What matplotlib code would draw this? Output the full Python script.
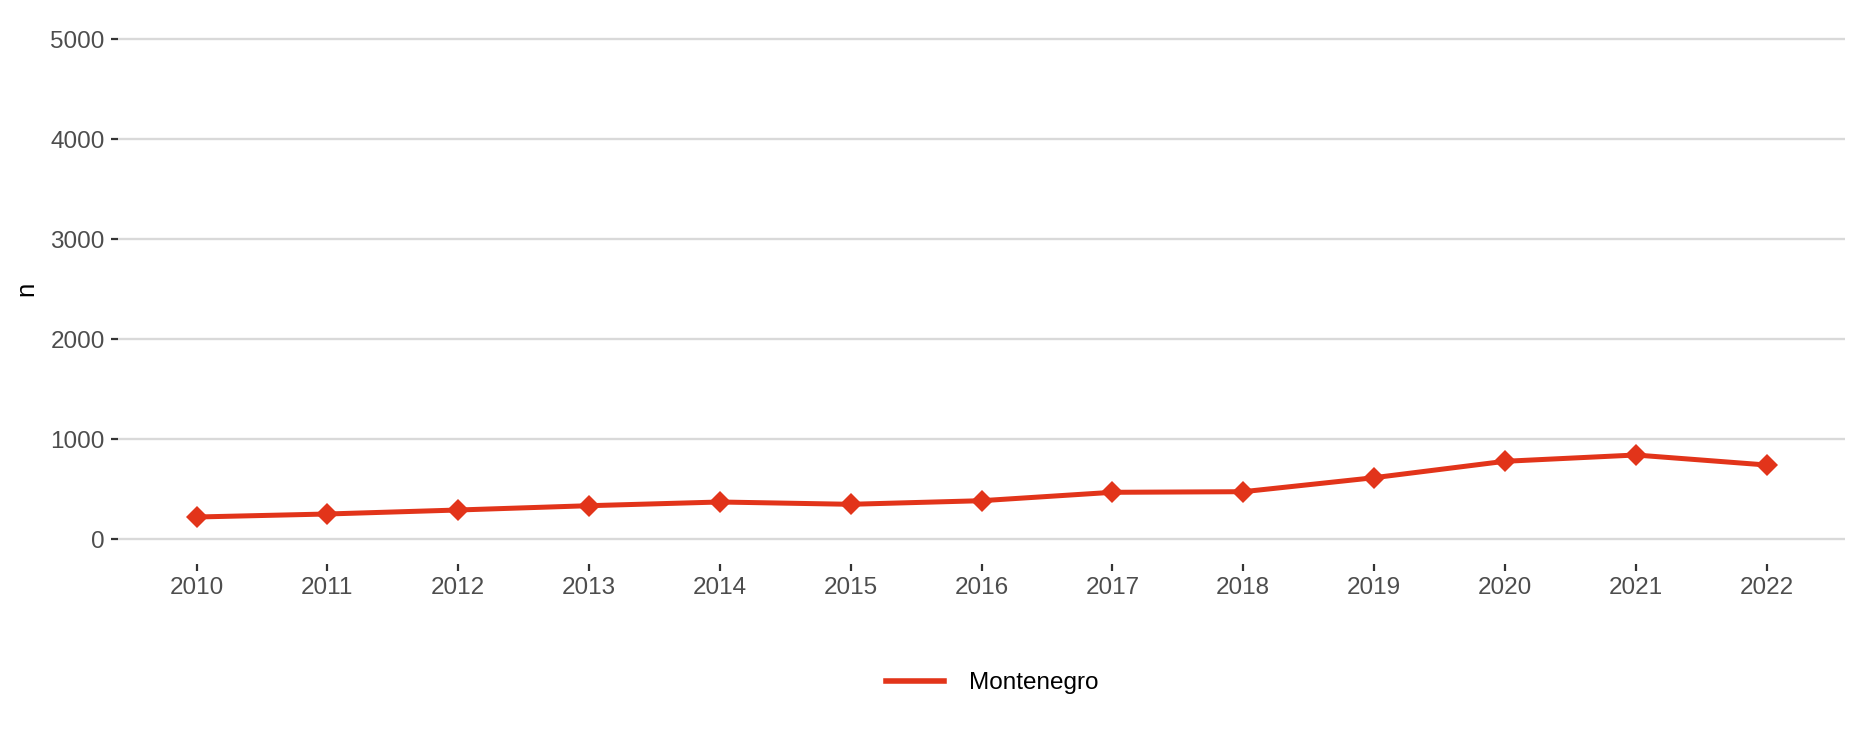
import matplotlib.pyplot as plt

plt.rcParams['font.family'] = ['Liberation Sans', 'DejaVu Sans']

# data
years = [2010, 2011, 2012, 2013, 2014, 2015, 2016, 2017, 2018, 2019, 2020, 2021, 2022]
counts = [220, 250, 290, 333, 370, 347, 383, 467, 473, 613, 777, 840, 740]
series_name = 'Montenegro'
y_ticks = [0, 1000, 2000, 3000, 4000, 5000]

red = '#E2341A'

fig = plt.figure(figsize=(18.6, 7.44), dpi=100)
ax = fig.add_axes([118 / 1860, 1 - 564 / 744, (1845 - 118) / 1860, (564 - 14) / 744])

ax.plot(years, counts, color=red, lw=3.6, marker='D', ms=11.5,
        markeredgewidth=0, label=series_name, solid_joinstyle='round')

ax.set_xlim(2009.4, 2022.6)
ax.set_ylim(-250, 5250)
ax.set_xticks(years)
ax.set_yticks(y_ticks)

ax.grid(axis='y', color='#D9D9D9', lw=1.7)
ax.grid(axis='x', visible=False)
ax.set_axisbelow(True)
for s in ax.spines.values():
    s.set_visible(False)

ax.tick_params(axis='both', colors='#333333', length=5, width=1.6,
               labelsize=17.5, labelcolor='#4D4D4D', pad=4.5)

ax.set_ylabel('n', fontsize=18.5, color='black', labelpad=9)

fig.legend(loc='center left', bbox_to_anchor=(886 / 1860, 1 - 683 / 744),
           frameon=False, fontsize=17.5, handlelength=2.4, handletextpad=1.0,
           borderpad=0, borderaxespad=0)
leg = fig.legends[0]
leg.legend_handles[0].set_marker('')
leg.legend_handles[0].set_linewidth(4)

fig.savefig('out.png', dpi=100)
